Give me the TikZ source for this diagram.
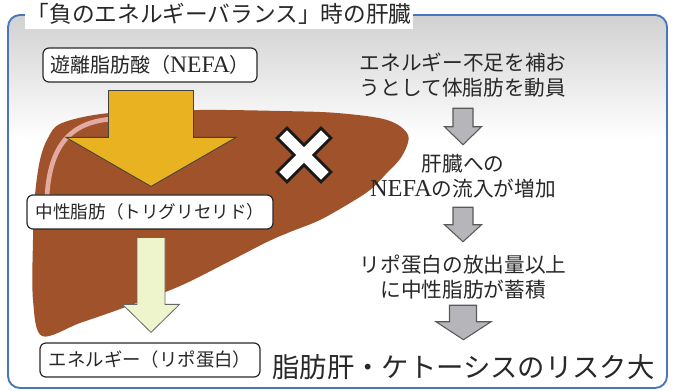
\documentclass[tikz,border=0pt]{standalone}
\usepackage{fontspec}
\setmainfont{Noto Sans CJK JP}
\newfontfamily\nefa{Liberation Serif}[Scale=1.18]
\usetikzlibrary{calc}

\definecolor{frameblue}{RGB}{70,118,190}
\definecolor{liver}{RGB}{160,82,42}
\definecolor{livershine}{RGB}{226,170,160}
\definecolor{fatyellow}{RGB}{232,178,32}
\definecolor{lipogreen}{RGB}{238,244,204}
\definecolor{flowgray}{RGB}{182,182,186}
\definecolor{ink}{RGB}{40,40,40}

\def\px{0.75pt}
% vertical block arrow: [style]{top}{tip}{shaft half}{head half}{head length}, sizes in px
\newcommand{\blockarrow}[6][]{%
  \draw[#1] let \p1=(#2), \p2=(#3) in
    (\x1-#4*\px,\y1) -- (\x1+#4*\px,\y1) -- (\x1+#4*\px,\y2+#6*\px)
    -- (\x2+#5*\px,\y2+#6*\px) -- (\x2,\y2) -- (\x2-#5*\px,\y2+#6*\px)
    -- (\x1-#4*\px,\y2+#6*\px) -- cycle;}

\tikzset{
  box/.style={draw=ink, fill=white, rounded corners=4.5pt, line width=0.9pt, minimum height=25.5pt, inner sep=0pt, text=ink},
  note/.style={align=center, text=ink, minimum height=37.5pt, inner sep=0pt, font=\fontsize{15.5}{18.75}\selectfont},
  flow/.style={fill=flowgray, draw=black!65, line width=0.8pt, line join=miter},
}

\begin{document}
\begin{tikzpicture}[x=\px, y=-\px, line join=round]
\useasboundingbox (0,0) rectangle (674,391);
\fill[white] (0,0) rectangle (674,391);

% frame, with a soft grey wash along the top
\begin{scope}
  \clip[rounded corners=9pt] (8,15) rectangle (667,388);
  \shade[top color=black!18, bottom color=white] (8,15) rectangle (667,140);
\end{scope}
\draw[frameblue, line width=1.4pt, rounded corners=9pt] (8,15) rectangle (667,388);

% liver
\fill[liver] plot[smooth cycle, tension=0.55] coordinates {
  (62,123) (110,113) (200,110) (280,111) (337,113) (387,120) (408,135)
  (402,156) (385,175) (370,190) (350,203) (320,220) (290,232) (267,242)
  (230,261) (180,286) (123,308) (80,323) (42,336) (33,300) (33,240)
  (35,195) (40,160) (48,138)};
\draw[livershine, line width=3.5pt, line cap=round] (112,119) .. controls (70,122) and (50,146) .. (47,196);

\node[fill=white, inner xsep=1.5pt, inner ysep=3pt, text=ink, font=\fontsize{17}{20}\selectfont] (title) at (219,14) {「負のエネルギーバランス」時の肝臓};

% left column
\node[box, minimum width=214*\px, font=\fontsize{15}{18}\selectfont] (nefa) at (150,65) {遊離脂肪酸（{\nefa NEFA}）};
\node[box, minimum width=246*\px, font=\fontsize{13.2}{16}\selectfont] (tg) at (150,212) {中性脂肪（トリグリセリド）};
\node[box, minimum width=220*\px, font=\fontsize{13.8}{16}\selectfont] (energy) at (150,360) {エネルギー（リポ蛋白）};

\blockarrow[fill=fatyellow, draw=black!75, line width=0.6pt, line join=miter]{$(nefa.south)+(1,8)$}{$(tg.north)+(1,-8)$}{42.5}{85}{49}
\blockarrow[fill=lipogreen, draw=black!60, line width=0.6pt, line join=miter]{$(tg.south)+(1,8)$}{$(energy.north)+(1,-10)$}{14}{28.5}{28}

% blocked mark
\begin{scope}[shift={(304,155)}, rotate=45]
  \draw[fill=white, draw=black!90, line width=2.2pt, line join=miter] (7,31) -- (7,7) -- (31,7) -- (31,-7) -- (7,-7) -- (7,-31) -- (-7,-31) -- (-7,-7) -- (-31,-7) -- (-31,7) -- (-7,7) -- (-7,31) -- cycle;
\end{scope}

% right column
\node[note] (n1) at (463,75.5) {エネルギー不足を補お\\うとして体脂肪を動員};
\node[note] (n2) at (463,176) {肝臓への\\{\nefa NEFA}の流入が増加};
\node[note] (n3) at (463,277.5) {リポ蛋白の放出量以上\\に中性脂肪が蓄積};
\node[text=ink, inner sep=0pt, minimum height=40*\px, font=\fontsize{20.5}{24}\selectfont] (risk) at (463.5,367) {脂肪肝・ケトーシスのリスク大};

\blockarrow[flow]{$(n1.south)+(0,7.5)$}{$(n2.north)+(0,-6)$}{10}{18.5}{18}
\blockarrow[flow]{$(n2.south)+(0,6)$}{$(n3.north)+(0,-10.5)$}{10}{18.5}{17}
\blockarrow[flow]{$(n3.south)+(0,2.5)$}{$(risk.north)+(0,-7)$}{13.5}{27.5}{18}
\end{tikzpicture}
\end{document}
